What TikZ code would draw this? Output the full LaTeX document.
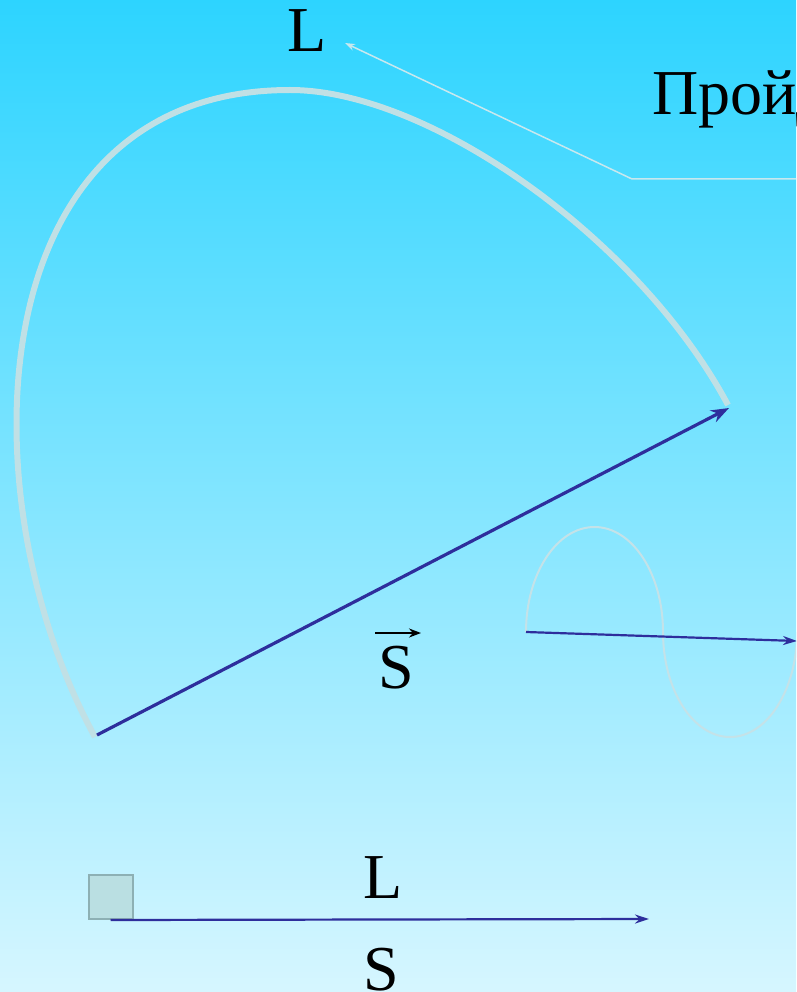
\documentclass[tikz,border=0pt]{standalone}
\usepackage{fontspec}
\setmainfont{Liberation Serif}
\usetikzlibrary{arrows.meta}
\definecolor{bgtop}{HTML}{2DD4FF}
\definecolor{bgbot}{HTML}{D6F6FF}
\definecolor{vec}{HTML}{2E2E9C}
\definecolor{trail}{HTML}{C0E0E5}
\definecolor{ptr}{HTML}{C8E8EE}
\definecolor{thin}{HTML}{C4E2E8}
\definecolor{sqf}{HTML}{BADFE2}
\definecolor{sqd}{HTML}{8DB0B4}
\begin{document}
\begin{tikzpicture}[x=1pt,y=-1pt,
  lbl/.style={font=\fontsize{64}{70}\selectfont, inner sep=0pt, text=black},
  bigvec/.style={draw=vec, line width=3.2pt, -{Stealth[length=18pt,width=13pt]}},
  smallvec/.style={draw=vec, line width=2.2pt, -{Stealth[length=14pt,width=9pt]}},
  trailline/.style={draw=trail, line width=6pt},
  thinline/.style={draw=thin, line width=2pt},
  pointer/.style={draw=ptr, line width=1.5pt, -{Stealth[length=10pt,width=7pt]}}]
\useasboundingbox (0,0) rectangle (796,992);
\clip (0,0) rectangle (796,992);
\shade[top color=bgtop, bottom color=bgbot] (0,0) rectangle (796,992);
% trail
\coordinate (t0) at (95,737);
\coordinate (t1) at (290,90);
\coordinate (t2) at (728,405);
\draw[trailline] (t0) .. controls (-35,500) and (-25,90) .. (t1)
  .. controls (430,90) and (640,240) .. (t2);
% displacement vector
\coordinate (a) at (97,735);
\coordinate (b) at (729,408);
\draw[bigvec] (a) -- (b);
% labels
\node[lbl, anchor=base] (Ltop) at (307,52) {L};
\node[lbl, anchor=base west] (title) at (652,115) {Пройденный путь};
\coordinate (p1) at (800,179);
\coordinate (p2) at (632,179);
\coordinate (ptip) at (345,43);
\draw[pointer] (p1) -- (p2) -- (ptip);
\node[lbl, anchor=base] (Svec) at (396,688) {S};
\coordinate (va) at (375,633);
\coordinate (vb) at (421,633);
\draw[line width=2pt, -{Stealth[length=12pt,width=9pt]}] (va) -- (vb);
% small sine
\coordinate (s0) at (526,632);
\draw[thinline] (s0) arc[start angle=180, end angle=360, x radius=68.5, y radius=105]
  arc[start angle=180, end angle=0, x radius=67, y radius=105];
\coordinate (s1) at (797,641);
\draw[smallvec] (s0) -- (s1);
% bottom
\node[draw=sqd, fill=sqf, line width=2pt, minimum size=44pt, inner sep=0pt] (box) at (110.5,897) {};
\coordinate (e) at (649,919);
\draw[smallvec] (box.south) -- (e);
\node[lbl, anchor=base] (Lb) at (383,898) {L};
\node[lbl, anchor=base] (Sb) at (381,990) {S};
\end{tikzpicture}
\end{document}
